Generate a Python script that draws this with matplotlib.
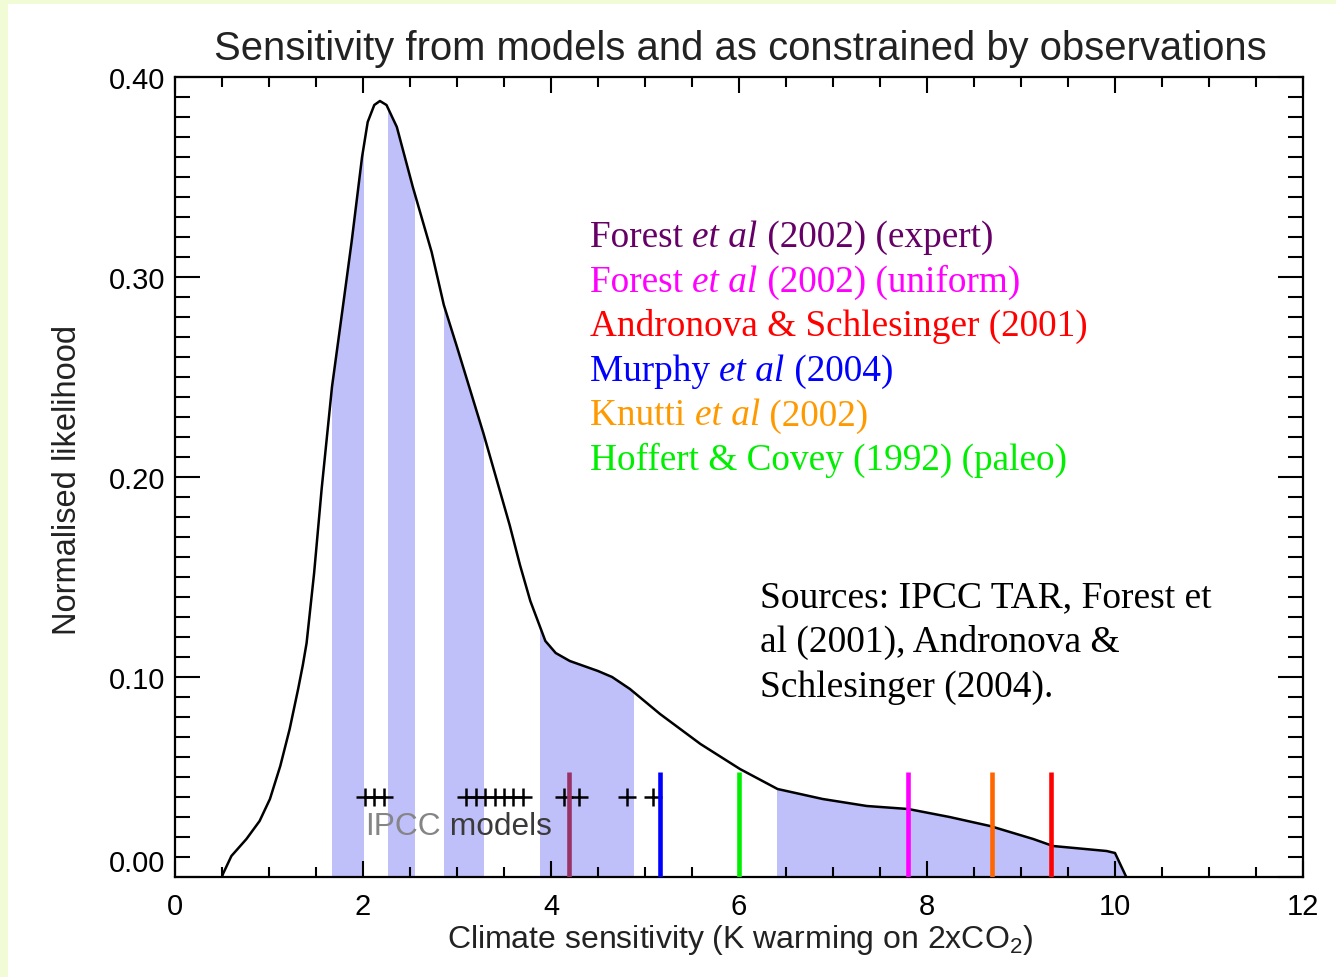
import numpy as np
import matplotlib as mpl
mpl.use('Agg')
import matplotlib.pyplot as plt
from matplotlib.patches import Rectangle
from matplotlib.transforms import offset_copy

# curve (K, normalised likelihood)
curve_x = [0.50, 0.51, 0.60, 0.76, 0.90, 1.01, 1.12, 1.22, 1.31, 1.36, 1.40, 1.48, 1.56, 1.67,
           1.80, 1.88, 1.99, 2.05, 2.12, 2.18, 2.25, 2.36, 2.53, 2.73, 2.86, 3.00, 3.28,
           3.56, 3.67, 3.78, 3.94, 4.05, 4.20, 4.50, 4.65, 4.84, 5.16, 5.59, 6.01, 6.41,
           6.89, 7.36, 7.80, 8.24, 8.67, 9.13, 9.34, 9.91, 10.00, 10.12]
curve_y = [0.000, 0.0015, 0.0105, 0.019, 0.028, 0.039, 0.0555, 0.074, 0.094, 0.106, 0.117,
           0.152, 0.194, 0.245, 0.290, 0.318, 0.360, 0.3775, 0.386, 0.388, 0.386, 0.375, 0.345,
           0.3125, 0.286, 0.265, 0.222, 0.176, 0.156, 0.138, 0.118, 0.112, 0.108, 0.103,
           0.100, 0.094, 0.0815, 0.0665, 0.054, 0.044, 0.039, 0.0355, 0.034, 0.030, 0.0255,
           0.019, 0.0155, 0.013, 0.012, 0.000]

# shaded ranges under the curve
bands = [(1.67, 2.00), (2.27, 2.54), (2.86, 3.28), (3.88, 4.87), (6.40, 10.2)]

# IPCC model sensitivities (crosses)
ipcc_x = [2.02, 2.12, 2.22, 3.10, 3.20, 3.30, 3.40, 3.50, 3.60, 3.70, 4.14, 4.30, 4.81, 5.08]
ipcc_y = 0.04

# observational estimates (coloured bars)
obs_x = [4.19, 5.16, 6.00, 7.80, 8.69, 9.32]
obs_colors = ['#993366', '#0000ff', '#00ee00', '#ff00ff', '#ff6600', '#ff0000']
obs_top = 0.0525

legend_lines = [
	[('Forest ', 'normal'), ('et al', 'italic'), (' (2002) (expert)', 'normal')],
	[('Forest ', 'normal'), ('et al', 'italic'), (' (2002) (uniform)', 'normal')],
	[('Andronova & Schlesinger (2001)', 'normal')],
	[('Murphy ', 'normal'), ('et al', 'italic'), (' (2004)', 'normal')],
	[('Knutti ', 'normal'), ('et al', 'italic'), (' (2002)', 'normal')],
	[('Hoffert & Covey (1992) (paleo)', 'normal')],
]
legend_colors = ['#660066', '#ff00ff', '#ff0000', '#0000ff', '#ff9900', '#00ee00']

sources = ['Sources: IPCC TAR, Forest et', 'al (2001), Andronova &', 'Schlesinger (2004).']

W, H = 1336, 978
band_color = '#bfbffa'
sans = 'Liberation Sans'
serif = 'Liberation Serif'

fig = plt.figure(figsize=(W / 100, H / 100), dpi=100, facecolor='#f1fbd6')
# white page inside the light green border
fig.patches.append(Rectangle((8 / W, 0), 1, 1 - 5 / H, transform=fig.transFigure,
	facecolor='white', edgecolor='none', zorder=-10))

ax = fig.add_axes([175 / W, 1 - 878 / H, (1303 - 175) / W, (878 - 78) / H])
ax.set_xlim(0, 12)
ax.set_ylim(0, 0.40)

for x0, x1 in bands:
	poly = ax.fill_between(curve_x, 0, curve_y, color=band_color, lw=0, zorder=1)
	poly.set_clip_path(Rectangle((x0, 0), x1 - x0, 1, transform=ax.transData))

ax.plot(curve_x, curve_y, color='black', lw=1.8, zorder=3)

ax.plot(ipcc_x, [ipcc_y] * len(ipcc_x), ls='none', marker='+', color='black',
	markersize=13, mew=1.8, zorder=4)

renderer = fig.canvas.get_renderer()

# "IPCC" lighter than "models", placed one after the other
trans = ax.transData
for txt, col in [('IPCC', '#858585'), (' models', '#3a3a3a')]:
	t = ax.text(2.02, 0.0215, txt, color=col, fontsize=22.8, family=sans, zorder=2,
		transform=trans)
	t.draw(renderer)
	trans = offset_copy(t.get_transform(), x=t.get_window_extent(renderer).width, units='dots')

ax.vlines(obs_x, 0, obs_top, colors=obs_colors, lw=3.3, zorder=5)

# axes styling
ax.set_xticks(np.arange(0, 13, 2))
ax.set_xticks(np.arange(0, 12.1, 0.5), minor=True)
ax.set_yticks(np.arange(0, 0.41, 0.1))
ax.set_yticks(np.arange(0, 0.401, 0.01), minor=True)
ax.set_yticklabels(['%.2f' % v for v in np.arange(0, 0.41, 0.1)])
ax.tick_params(axis='both', which='both', direction='in', top=True, right=True,
	width=1.5, labelsize=21, colors='black')
ax.tick_params(axis='x', which='major', length=11.5, pad=11)
ax.tick_params(axis='x', which='minor', length=7)
ax.tick_params(axis='y', which='major', length=18, pad=7)
ax.tick_params(axis='y', which='minor', length=11)
for lab in ax.get_xticklabels() + ax.get_yticklabels():
	lab.set_family(sans)
# the 0.00 label sits a little above its tick in the original
ax.yaxis.get_major_ticks()[0].label1.set_verticalalignment('bottom')
for s in ax.spines.values():
	s.set_linewidth(1.6)

fig.text(740 / W, 1 - 60 / H, 'Sensitivity from models and as constrained by observations',
	ha='center', va='baseline', fontsize=28.8, family=sans, color='#222222')
fig.text(740 / W, 1 - 948 / H, r'Climate sensitivity (K warming on 2xCO$_\mathregular{2}$)',
	ha='center', va='baseline', fontsize=23, family=sans, color='#222222')
fig.text(83 / W, 1 - 480 / H, 'Normalised likelihood', rotation=90,
	ha='right', va='center', fontsize=23.5, family=sans, color='#222222')

# coloured legend, each line built from pieces so "et al" can be italic
for i, (pieces, col) in enumerate(zip(legend_lines, legend_colors)):
	trans = fig.transFigure
	xb, yb = 590 / W, 1 - (247 + 44.6 * i) / H
	for txt, style in pieces:
		t = fig.text(xb, yb, txt, color=col, fontsize=26.8, family=serif, style=style,
			va='baseline', transform=trans)
		t.draw(renderer)
		ex = t.get_window_extent(renderer)
		trans = offset_copy(t.get_transform(), x=ex.width, units='dots')

for i, line in enumerate(sources):
	fig.text(760 / W, 1 - (607 + 45 * i) / H, line, color='black', fontsize=27,
		family=serif, va='baseline')

plt.savefig('out.png', dpi=100, facecolor=fig.get_facecolor())
